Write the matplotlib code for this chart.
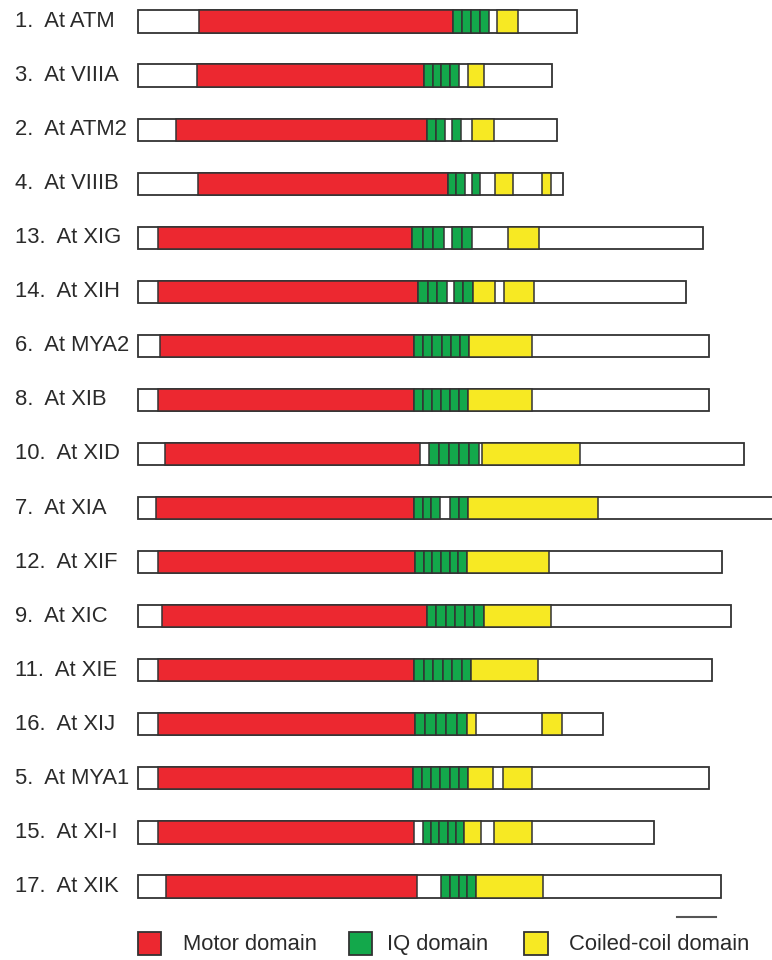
import matplotlib
matplotlib.use("Agg")
import matplotlib.pyplot as plt
from matplotlib.patches import Rectangle

plt.rcParams["font.family"] = ["Liberation Sans", "DejaVu Sans"]

# protein diagrams, all positions in amino acids
names = ["1.  At ATM", "3.  At VIIIA", "2.  At ATM2", "4.  At VIIIB",
         "13.  At XIG", "14.  At XIH", "6.  At MYA2", "8.  At XIB",
         "10.  At XID", "7.  At XIA", "12.  At XIF", "9.  At XIC",
         "11.  At XIE", "16.  At XIJ", "5.  At MYA1", "15.  At XI-I",
         "17.  At XIK"]
lengths = [1126, 1062, 1074, 1090, 1449, 1405, 1464, 1464, 1554, 1659,
           1497, 1521, 1472, 1192, 1464, 1323, 1495]
motor = [(156, 808), (151, 733), (97, 741), (154, 795), (51, 703),
         (51, 718), (56, 708), (51, 708), (69, 723), (46, 708),
         (51, 710), (62, 741), (51, 708), (51, 710), (51, 705),
         (51, 708), (72, 715)]
# (start, end, number of IQ motifs)
iq = [
    [(808, 900, 4)],
    [(733, 823, 4)],
    [(741, 787, 2), (805, 828, 1)],
    [(795, 838, 2), (856, 877, 1)],
    [(703, 785, 3), (805, 856, 2)],
    [(718, 792, 3), (810, 859, 2)],
    [(708, 849, 6)],
    [(708, 846, 6)],
    [(746, 874, 5)],
    [(708, 774, 3), (800, 846, 2)],
    [(710, 844, 6)],
    [(741, 887, 6)],
    [(708, 854, 6)],
    [(710, 844, 5)],
    [(705, 846, 6)],
    [(731, 836, 5)],
    [(777, 867, 4)],
]
coiled = [
    [(921, 974)],
    [(846, 887)],
    [(856, 913)],
    [(915, 962), (1036, 1059)],
    [(949, 1028)],
    [(859, 915), (938, 1015)],
    [(849, 1010)],
    [(846, 1010)],
    [(882, 1133)],
    [(846, 1179)],
    [(844, 1054)],
    [(887, 1059)],
    [(854, 1026)],
    [(844, 867), (1036, 1087)],
    [(846, 910), (936, 1010)],
    [(836, 879), (913, 1010)],
    [(867, 1038)],
]
legend_labels = ["Motor domain", "IQ domain", "Coiled-coil domain"]
scale_bar = 100

RED = "#ec2830"
GREEN = "#13a84b"
YELLOW = "#f7e923"
EDGE = "#333333"
TXT = "#2a2a2a"
H = 0.41
FS = 15.8

fig = plt.figure(figsize=(7.72, 9.60), dpi=100)
ax = fig.add_axes([0, 0, 1, 1])
ax.set_xlim(-353.8, 1625.6)
ax.set_ylim(17.36, -0.398)
ax.axis("off")


def box(x0, x1, y, color, lw=1.1, z=2):
    ax.add_patch(Rectangle((x0, y - H / 2), x1 - x0, H, facecolor=color,
                           edgecolor=EDGE, linewidth=lw, zorder=z))


for i, name in enumerate(names):
    ax.text(-316, i, name, ha="left", va="center", fontsize=FS, color=TXT)
    box(0, lengths[i], i, "white", lw=1.3, z=1)
    box(motor[i][0], motor[i][1], i, RED)
    for s, e, n in iq[i]:
        w = (e - s) / n
        for k in range(n):
            box(s + k * w, s + (k + 1) * w, i, GREEN)
    for s, e in coiled[i]:
        box(s, e, i, YELLOW)

# scale bar
ax.plot([1382, 1382 + scale_bar], [16.56, 16.56], color="#555555", lw=1.5)

# legend
ly = 17.06
sq = 0.43
leg_x = [0, 541, 990]
txt_x = [115, 638, 1105]
cols = [RED, GREEN, YELLOW]
for lx, tx, c, lab in zip(leg_x, txt_x, cols, legend_labels):
    ax.add_patch(Rectangle((lx, ly - sq / 2), 60, sq, facecolor=c,
                           edgecolor=EDGE, linewidth=1.3))
    ax.text(tx, ly + 0.02, lab, ha="left", va="center", fontsize=FS, color=TXT)

fig.savefig("out.png", dpi=100)
